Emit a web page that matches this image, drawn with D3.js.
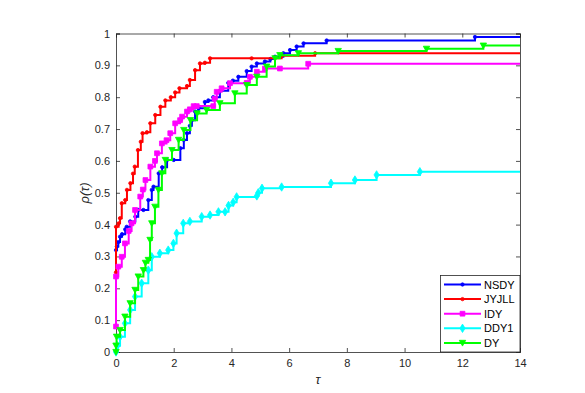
<!DOCTYPE html>
<html>
<head>
<meta charset="utf-8">
<script src="https://cdn.jsdelivr.net/npm/d3@7"></script>
<style>
  body { margin: 0; background: #fff; }
  text { font-family: "Liberation Sans", Arial, sans-serif; }
</style>
</head>
<body>
<div id="graphics"></div>
<script>
// performance profile data as [tau, rho]
const nsdy = [[0,0.32],[0.03,0.331],[0.08,0.345],[0.14,0.362],[0.21,0.37],[0.32,0.385],[0.37,0.393],[0.49,0.41],[0.67,0.425],[0.77,0.446],[0.95,0.446],[1.12,0.477],[1.24,0.509],[1.3,0.519],[1.48,0.561],[1.6,0.58],[1.77,0.603],[2.0,0.603],[2.23,0.64],[2.35,0.666],[2.46,0.687],[2.56,0.71],[2.63,0.728],[2.74,0.755],[2.86,0.765],[3.08,0.785],[3.2,0.79],[3.37,0.8],[3.6,0.82],[3.89,0.845],[4.05,0.852],[4.24,0.864],[4.53,0.882],[4.7,0.896],[4.88,0.906],[5.16,0.912],[5.35,0.92],[5.51,0.927],[5.8,0.938],[6.03,0.948],[6.26,0.959],[6.5,0.969],[7.3,0.978],[12.44,0.989]];
const jyjll = [[0,0.25],[0,0.393],[0.09,0.404],[0.14,0.42],[0.2,0.467],[0.32,0.477],[0.38,0.509],[0.5,0.53],[0.59,0.56],[0.65,0.582],[0.76,0.634],[0.86,0.66],[0.92,0.687],[1.07,0.69],[1.19,0.718],[1.36,0.744],[1.54,0.77],[1.71,0.79],[1.9,0.8],[2.05,0.815],[2.2,0.828],[2.46,0.835],[2.56,0.854],[2.74,0.885],[2.91,0.906],[3.08,0.908],[3.26,0.922],[4.7,0.922],[5.74,0.93],[6.9,0.938]];
const idy = [[0,0.08],[0,0.237],[0.08,0.268],[0.2,0.299],[0.31,0.341],[0.44,0.38],[0.54,0.404],[0.66,0.446],[0.84,0.488],[0.93,0.51],[1.02,0.54],[1.19,0.582],[1.35,0.6],[1.42,0.624],[1.59,0.655],[1.75,0.665],[1.88,0.687],[2.05,0.718],[2.22,0.728],[2.29,0.739],[2.46,0.755],[2.56,0.762],[2.69,0.772],[2.8,0.772],[3.37,0.772],[3.42,0.795],[3.49,0.817],[3.66,0.828],[3.95,0.844],[4.53,0.845],[4.64,0.864],[4.88,0.88],[5.16,0.89],[5.68,0.89],[6.66,0.905]];
const ddy1 = [[0,0],[0.05,0.02],[0.14,0.048],[0.31,0.09],[0.49,0.132],[0.66,0.174],[0.89,0.216],[1.12,0.257],[1.24,0.299],[1.52,0.31],[1.81,0.32],[1.99,0.341],[2.1,0.373],[2.33,0.404],[2.56,0.41],[2.97,0.425],[3.26,0.43],[3.55,0.44],[3.78,0.44],[3.9,0.46],[4.06,0.47],[4.18,0.487],[4.88,0.49],[4.93,0.5],[5.06,0.514],[5.74,0.518],[7.45,0.53],[8.28,0.54],[9.03,0.556],[10.53,0.566]];
const dy = [[0,0],[0,0.02],[0.02,0.048],[0.14,0.069],[0.31,0.111],[0.49,0.153],[0.66,0.195],[0.77,0.237],[0.95,0.257],[1.02,0.28],[1.12,0.289],[1.18,0.352],[1.24,0.404],[1.35,0.456],[1.47,0.509],[1.59,0.561],[1.71,0.603],[1.94,0.634],[2.17,0.666],[2.35,0.697],[2.58,0.728],[2.81,0.749],[3.14,0.76],[3.6,0.781],[4.12,0.812],[4.53,0.838],[4.88,0.864],[5.22,0.896],[5.51,0.922],[5.68,0.932],[6.32,0.938],[7.7,0.945],[10.76,0.952],[12.73,0.962]];

const names = ["NSDY", "JYJLL", "IDY", "DDY1", "DY"];
const colors = ["#0000ff", "#ff0000", "#ff00ff", "#00ffff", "#00ff00"];
const markers = ["dot", "dot", "square", "diamond", "triangle"];
const xTicks = [0, 2, 4, 6, 8, 10, 12, 14];
const yTicks = [0, 0.1, 0.2, 0.3, 0.4, 0.5, 0.6, 0.7, 0.8, 0.9, 1];
const tauMax = 14;

const W = 585, H = 393;
const mLeft = 116, mRight = 520, mTop = 33.5, mBottom = 352;

const svg = d3.select("#graphics").append("svg")
    .attr("width", W)
    .attr("height", H);

const x = d3.scaleLinear().domain([0, tauMax]).range([mLeft, mRight]);
const y = d3.scaleLinear().domain([0, 1]).range([mBottom, mTop]);

const markerPath = {
    dot: d3.symbol(d3.symbolCircle, 9)(),
    square: "M-2.4,-2.4H2.4V2.4H-2.4Z",
    diamond: "M0,-4.2L2.6,0L0,4.2L-2.6,0Z",
    triangle: "M-3.2,-2.6H3.2L0,3.2Z"
};

// axes (box on, ticks inside)
const tickCol = "#262626";
const gx = svg.append("g").attr("transform", `translate(0,${mBottom})`)
    .call(d3.axisBottom(x).tickValues(xTicks).tickSize(-4).tickPadding(7).tickFormat(d3.format("d")));
const gxTop = svg.append("g").attr("transform", `translate(0,${mTop})`)
    .call(d3.axisTop(x).tickValues(xTicks).tickSize(-4).tickFormat(""));
const gy = svg.append("g").attr("transform", `translate(${mLeft},0)`)
    .call(d3.axisLeft(y).tickValues(yTicks).tickSize(-4).tickPadding(6).tickFormat(d => d === 0 || d === 1 ? d : d.toFixed(1)));
const gyR = svg.append("g").attr("transform", `translate(${mRight},0)`)
    .call(d3.axisRight(y).tickValues(yTicks).tickSize(-4).tickFormat(""));

[gx, gxTop, gy, gyR].forEach(g => {
    g.select(".domain").attr("stroke", tickCol).attr("stroke-width", 0.8);
    g.selectAll(".tick line").attr("stroke", tickCol).attr("stroke-width", 0.8);
    g.selectAll(".tick text").attr("fill", tickCol).style("font-size", "11px");
});

svg.append("text")
    .attr("x", (mLeft + mRight) / 2).attr("y", 384)
    .attr("text-anchor", "middle")
    .style("font-size", "13px").style("font-style", "italic").attr("fill", tickCol)
    .text("τ");

svg.append("text")
    .attr("transform", "translate(89,193) rotate(-90)")
    .attr("text-anchor", "middle")
    .style("font-size", "13px").style("font-style", "italic").attr("fill", tickCol)
    .text("ρ(τ)");

// curves
const line = d3.line()
    .x(d => x(d[0]))
    .y(d => y(d[1]))
    .curve(d3.curveStepAfter);

const series = [nsdy, jyjll, idy, ddy1, dy];
series.forEach((data, i) => {
    let last = data[data.length - 1];
    let pts = data.concat([[tauMax, last[1]]]);
    svg.append("path")
        .attr("d", line(pts))
        .attr("fill", "none")
        .attr("stroke", colors[i])
        .attr("stroke-width", 2);
    svg.append("g").selectAll("path")
        .data(data)
        .enter()
        .append("path")
        .attr("transform", d => `translate(${x(d[0])},${y(d[1])})`)
        .attr("d", markerPath[markers[i]])
        .attr("fill", colors[i])
        .attr("stroke", colors[i])
        .attr("stroke-width", 0.8);
});

// legend
const lg = svg.append("g");
lg.append("rect")
    .attr("x", 440.5).attr("y", 275.5)
    .attr("width", mRight - 440.5).attr("height", mBottom - 275.5)
    .attr("fill", "#fff")
    .attr("stroke", tickCol).attr("stroke-width", 0.8);
names.forEach((name, i) => {
    let ly = 284.5 + i * 14.6;
    lg.append("line")
        .attr("x1", 444).attr("x2", 481).attr("y1", ly).attr("y2", ly)
        .attr("stroke", colors[i]).attr("stroke-width", 2);
    lg.append("path")
        .attr("transform", `translate(462.5,${ly})`)
        .attr("d", markerPath[markers[i]])
        .attr("fill", colors[i]).attr("stroke", colors[i]).attr("stroke-width", 0.8);
    lg.append("text")
        .attr("x", 484).attr("y", ly + 4)
        .style("font-size", "11px").attr("fill", "#000")
        .text(name);
});
</script>
</body>
</html>
